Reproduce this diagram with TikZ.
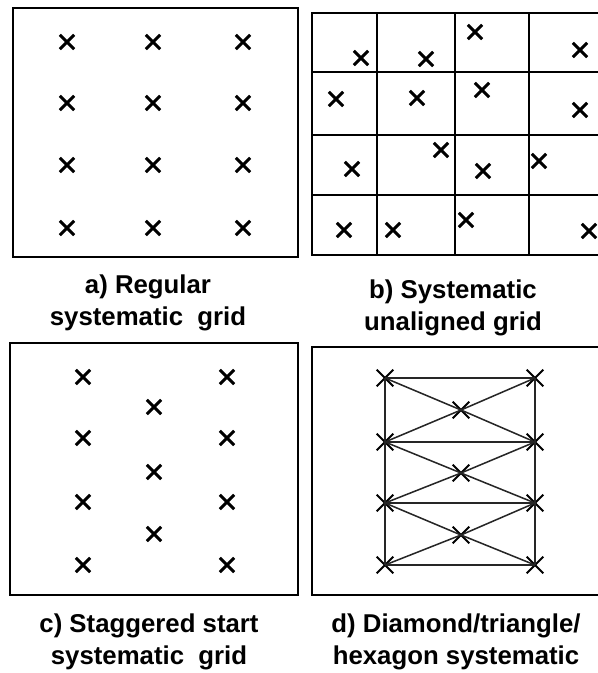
\documentclass[tikz,border=0pt]{standalone}
\usepackage{fontspec}
\setmainfont{Liberation Sans}
\usetikzlibrary{shapes.misc}

\tikzset{
  smp/.style={draw, cross out, inner sep=0pt, minimum size=0.34cm, line width=2.5pt},
  vtx/.style={smp, minimum size=0.44cm, line width=1.7pt},
  frame/.style={line width=2pt},
  cell/.style={line width=1.5pt},
  link/.style={line width=1.3pt, black!85},
  caption/.style={align=center, font=\bfseries\fontsize{22}{27}\selectfont}
}

\begin{document}
\begin{tikzpicture}[x=0.03cm, y=-0.03cm]
  \useasboundingbox (0,0) rectangle (598,673);
  \clip (0,0) rectangle (598,673);

  % a) regular systematic grid
  \draw[frame] (13,8) rectangle (298,257);
  \foreach \c [count=\i] in {67,153,243}
    \foreach \r [count=\j] in {42,103,165,228}
      \node[smp] (a\i\j) at (\c,\r) {};
  \node[caption] (capA) at (148,303) {a) Regular\\systematic\ \ grid};

  % b) systematic unaligned grid
  \draw[frame] (312,13) rectangle (610,255);
  \foreach \c in {377,455,529}
    \draw[cell] (\c,13) -- (\c,255);
  \foreach \r in {72,135,195}
    \draw[cell] (312,\r) -- (610,\r);
  \foreach \p [count=\k] in {(361,58),(426,59),(475,32),(580,50),
                             (336,99),(417,98),(482,90),(580,110),
                             (352,169),(441,150),(483,171),(539,161),
                             (344,230),(393,230),(466,220),(589,231)}
    \node[smp] (b\k) at \p {};
  \node[caption] (capB) at (453,308) {b) Systematic\\unaligned grid};

  % c) staggered start systematic grid
  \draw[frame] (10,343) rectangle (298,595);
  \foreach \r [count=\j] in {377,438,502,565} {
    \node[smp] (cl\j) at (83,\r) {};
    \node[smp] (cr\j) at (227,\r) {};
  }
  \foreach \r [count=\j] in {407,472,534}
    \node[smp] (cm\j) at (154,\r) {};
  \node[caption] (capC) at (149,642) {c) Staggered start\\systematic\ \ grid};

  % d) diamond/triangle/hexagon
  \draw[frame] (312,347) rectangle (610,595);
  \foreach \r [count=\j] in {378,442,503,565} {
    \node[vtx] (dl\j) at (385,\r) {};
    \node[vtx] (dr\j) at (535,\r) {};
  }
  \foreach \r [count=\j] in {410,473,535}
    \node[vtx] (dm\j) at (461,\r) {};
  \draw[link] (dl1.center) -- (dl4.center);
  \draw[link] (dr1.center) -- (dr4.center);
  \foreach \j in {1,...,4}
    \draw[link] (dl\j.center) -- (dr\j.center);
  \foreach \j [evaluate=\j as \n using int(\j+1)] in {1,2,3} {
    \draw[link] (dl\j.center) -- (dm\j.center) -- (dr\n.center);
    \draw[link] (dr\j.center) -- (dm\j.center) -- (dl\n.center);
  }
  \node[caption] (capD) at (456,642) {d) Diamond/triangle/\\hexagon systematic};
\end{tikzpicture}
\end{document}
